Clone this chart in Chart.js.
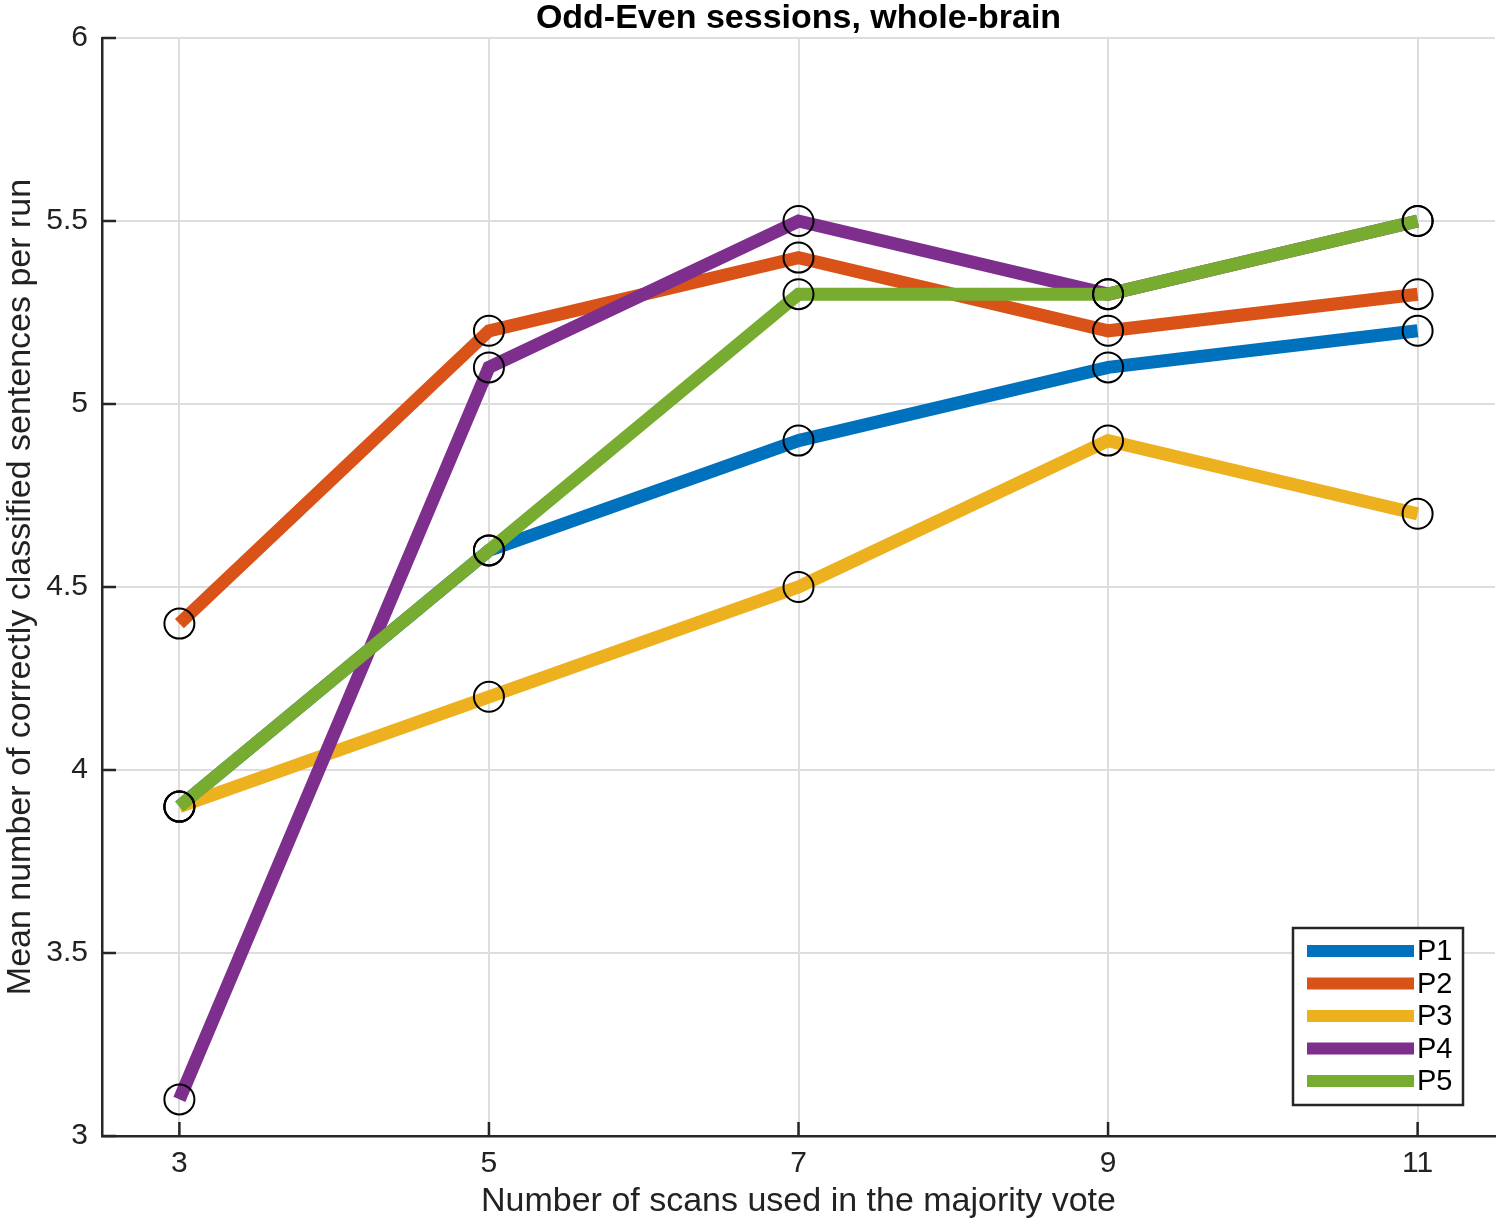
<!DOCTYPE html>
<html lang="en">
<head>
    <meta charset="UTF-8">
    <title>Odd-Even sessions, whole-brain</title>
    <script src="https://cdn.jsdelivr.net/npm/chart.js"></script>
    <style>
        body { margin: 0; background: #fff; }
    </style>
</head>
<body>
    <canvas id="myChart" width="1500" height="1222"></canvas>

    <script>
        // data
        const scans = [3, 5, 7, 9, 11];
        const P1 = [3.9, 4.6, 4.9, 5.1, 5.2];
        const P2 = [4.4, 5.2, 5.4, 5.2, 5.3];
        const P3 = [3.9, 4.2, 4.5, 4.9, 4.7];
        const P4 = [3.1, 5.1, 5.5, 5.3, 5.5];
        const P5 = [3.9, 4.6, 5.3, 5.3, 5.5];
        const names = ['P1', 'P2', 'P3', 'P4', 'P5'];
        const yTicks = [3, 3.5, 4, 4.5, 5, 5.5, 6];

        const seriesVals = [P1, P2, P3, P4, P5];
        const colors = ['#0072BD', '#D95319', '#EDB120', '#7E2F8E', '#77AC30'];
        const FONT = '"Liberation Sans", Arial, Helvetica, sans-serif';
        const AXIS = '#262626';

        const dataSets = seriesVals.map((vals, i) => ({
            label: names[i],
            data: vals.map((v, j) => ({ x: scans[j], y: v })),
            borderColor: colors[i],
            backgroundColor: colors[i],
            borderWidth: 13,
            borderCapStyle: 'butt',
            borderJoinStyle: 'miter',
            pointRadius: 0,
            tension: 0,
            order: 5 - i,  // later series on top, like matlab
        }));

        // black open circles on every point
        dataSets.push({
            label: 'markers',
            data: seriesVals.flatMap(vals => vals.map((v, j) => ({ x: scans[j], y: v }))),
            showLine: false,
            pointStyle: 'circle',
            pointRadius: 15,
            pointBorderWidth: 2,
            pointBorderColor: '#000',
            pointBackgroundColor: 'rgba(0,0,0,0)',
            order: 0,
        });

        // title, inward ticks and the boxed legend
        const matlabLook = {
            id: 'matlabLook',
            afterDraw(chart) {
                const c = chart.ctx;
                const a = chart.chartArea;
                const xs = chart.scales.x, ys = chart.scales.y;
                c.save();

                c.fillStyle = '#000';
                c.font = 'bold 34px ' + FONT;
                c.textAlign = 'center';
                c.textBaseline = 'middle';
                c.fillText('Odd-Even sessions, whole-brain', (a.left + a.right) / 2, 19);

                c.strokeStyle = AXIS;
                c.lineWidth = 2.5;
                c.beginPath();
                scans.forEach(v => {
                    const px = xs.getPixelForValue(v);
                    c.moveTo(px, a.bottom);
                    c.lineTo(px, a.bottom - 14);
                });
                yTicks.forEach(v => {
                    const py = ys.getPixelForValue(v);
                    c.moveTo(a.left, py);
                    c.lineTo(a.left + 14, py);
                });
                c.stroke();

                // legend box
                const bx = 1293, by = 928, bw = 170, bh = 177;
                c.fillStyle = '#fff';
                c.fillRect(bx, by, bw, bh);
                c.lineWidth = 2.5;
                c.strokeStyle = AXIS;
                c.strokeRect(bx, by, bw, bh);
                c.font = '29px ' + FONT;
                c.textAlign = 'left';
                names.forEach((n, i) => {
                    const yy = by + 23 + i * 32.5;
                    c.strokeStyle = colors[i];
                    c.lineWidth = 12;
                    c.beginPath();
                    c.moveTo(bx + 14, yy);
                    c.lineTo(bx + 121, yy);
                    c.stroke();
                    c.fillStyle = '#000';
                    c.fillText(n, bx + 124, yy + 1);
                });
                c.restore();
            }
        };

        const ctx = document.getElementById('myChart');

        new Chart(ctx, {
            type: 'line',
            data: { datasets: dataSets },
            options: {
                responsive: false,
                animation: false,
                devicePixelRatio: 1,
                layout: { autoPadding: false, padding: { top: 38, right: 5, left: 0, bottom: 0 } },
                plugins: {
                    legend: { display: false },
                    title: { display: false },
                    tooltip: { enabled: false },
                },
                scales: {
                    x: {
                        type: 'linear',
                        min: 2.5,
                        max: 11.5,
                        afterBuildTicks: (s) => { s.ticks = scans.map(v => ({ value: v })); },
                        afterFit: (s) => { s.height = 86; },
                        grid: { color: '#dddddd', lineWidth: 2, drawTicks: false },
                        border: { color: AXIS, width: 2.5 },
                        ticks: {
                            color: '#222', padding: 10, font: { family: FONT, size: 30 },
                            callback: (v) => String(v),
                        },
                        title: {
                            display: true,
                            text: 'Number of scans used in the majority vote',
                            color: '#222',
                            padding: { top: 0, bottom: 0 },
                            font: { family: FONT, size: 34 },
                        },
                    },
                    y: {
                        min: 3,
                        max: 6,
                        afterBuildTicks: (s) => { s.ticks = yTicks.map(v => ({ value: v })); },
                        afterFit: (s) => { s.width = 102; },
                        grid: { color: '#dddddd', lineWidth: 2, drawTicks: false },
                        border: { color: AXIS, width: 2.5 },
                        ticks: {
                            color: '#222', padding: 14, font: { family: FONT, size: 30 },
                            callback: (v) => String(v),
                        },
                        title: {
                            display: true,
                            text: 'Mean number of correctly classified sentences per run',
                            color: '#222',
                            padding: { top: 0, bottom: 0 },
                            font: { family: FONT, size: 34 },
                        },
                    },
                },
            },
            plugins: [matlabLook],
        });
    </script>
</body>
</html>
